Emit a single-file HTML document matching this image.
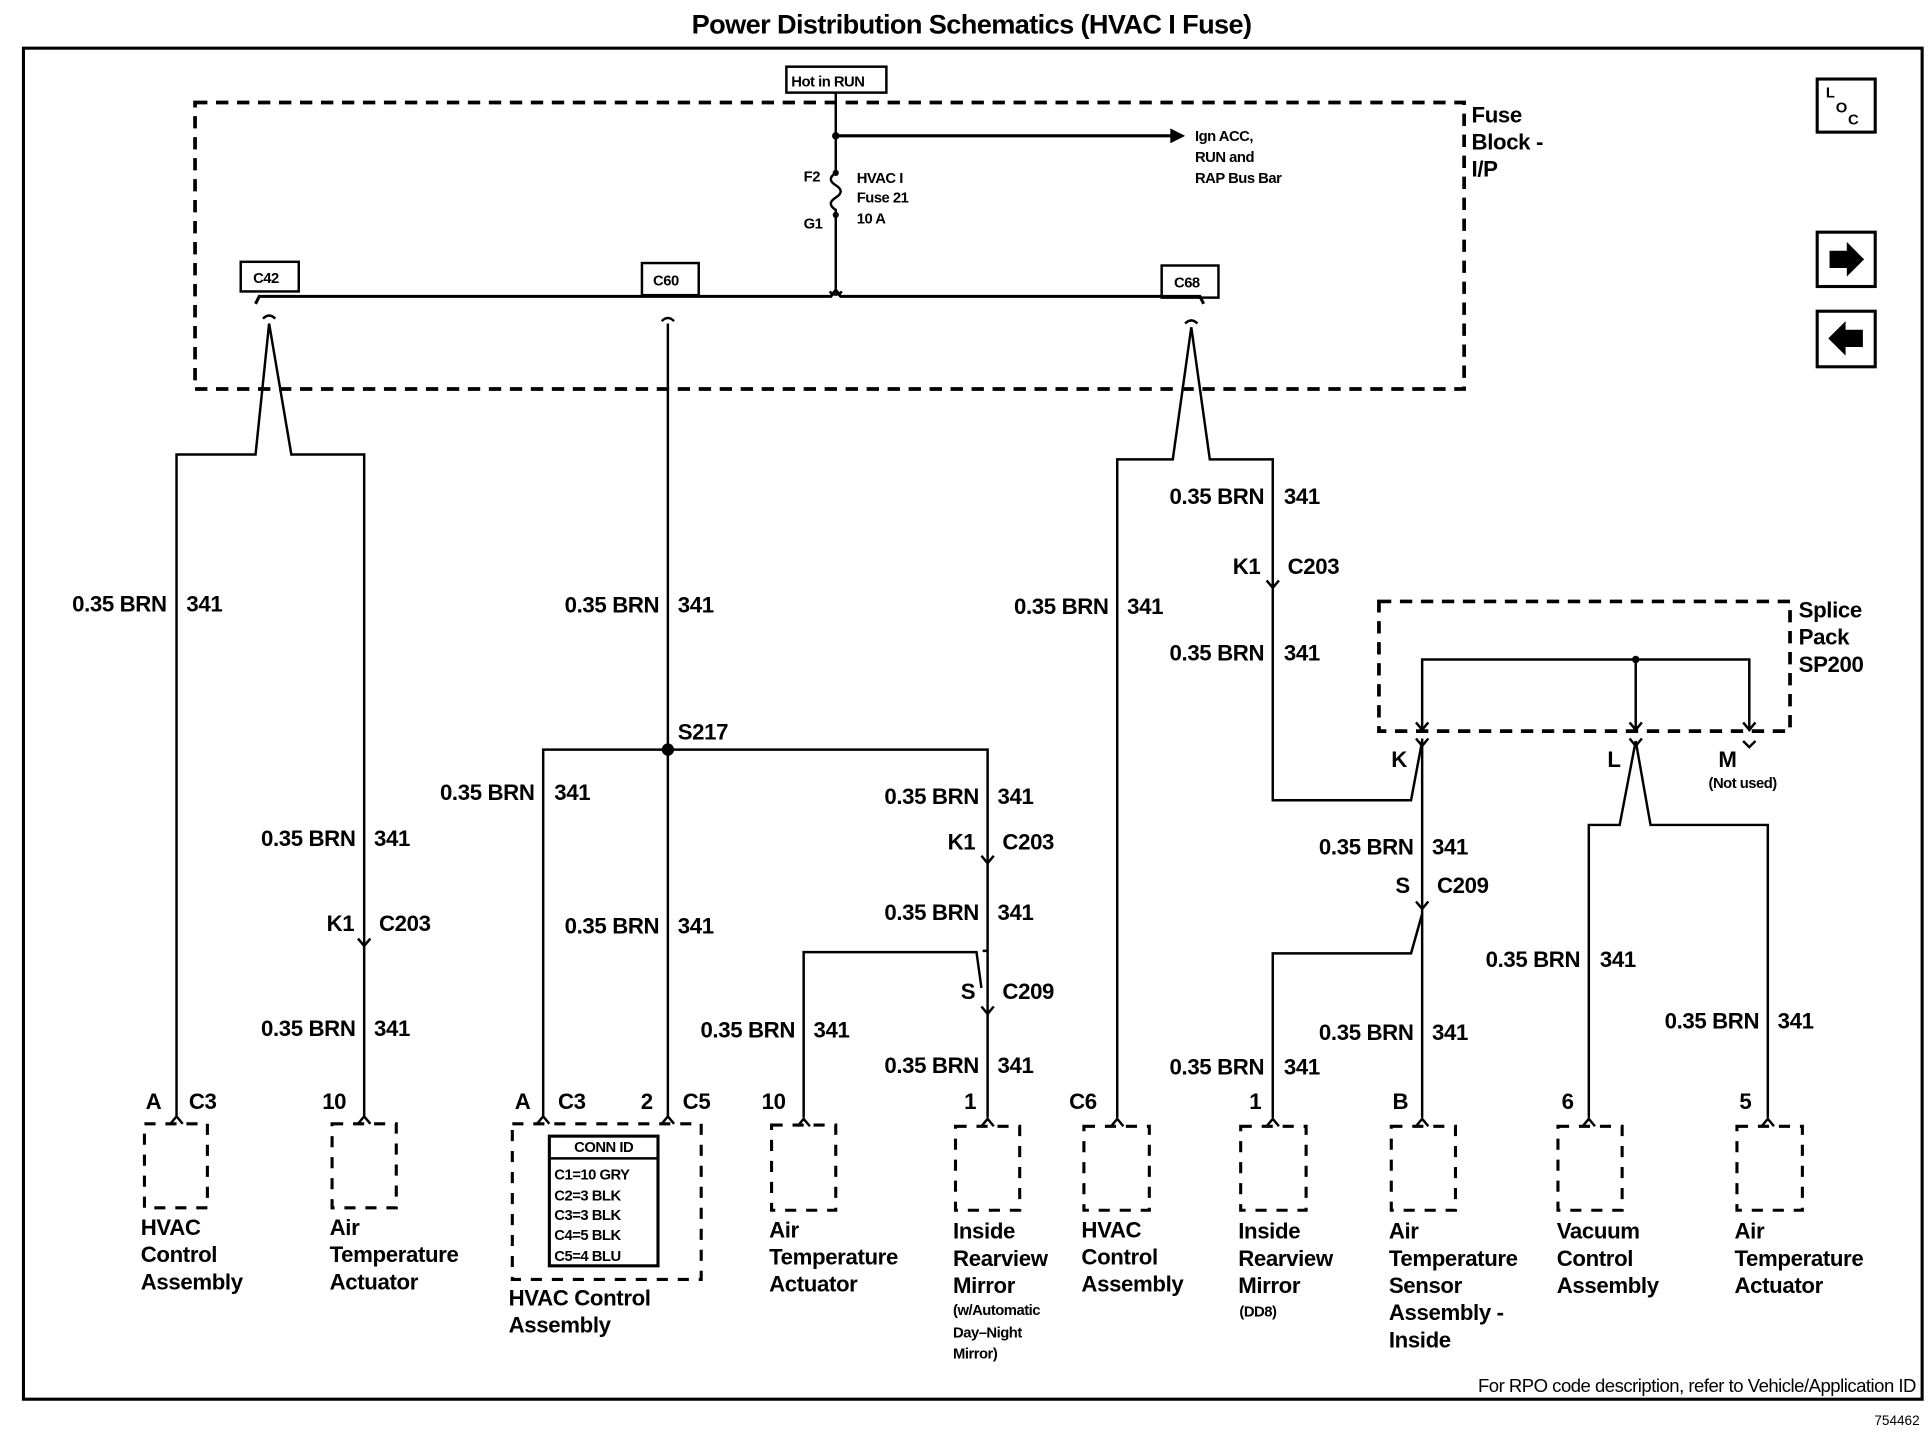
<!DOCTYPE html>
<html><head><meta charset="utf-8"><style>
html,body{margin:0;padding:0;background:#fff;}
svg{display:block;}
text{font-family:"Liberation Sans",Arial,sans-serif;fill:#000;}
.t{font-size:18px;letter-spacing:-0.3px;font-weight:bold;}
.s{font-size:12px;letter-spacing:-0.4px;font-weight:bold;}
.b{font-weight:bold;}
</style></head><body>
<svg width="1932" height="1456" viewBox="0 0 1565 1179" preserveAspectRatio="none" xmlns="http://www.w3.org/2000/svg">
<g fill="none" stroke="#000" stroke-width="2">
<rect x="19" y="39" width="1538" height="1094" stroke-width="2.5"/>
<rect x="158" y="83" width="1028" height="232" stroke-width="3" stroke-dasharray="10,7"/>
<rect x="637" y="54" width="81" height="21"/>
<line x1="677" y1="75" x2="677" y2="140"/>
<path d="M677,140 q-8,5 0,10 q8,5 0,10 q-8,5 0,10 l0,4"/>
<line x1="677" y1="174" x2="677" y2="236"/>
<line x1="677" y1="110" x2="950" y2="110" stroke-width="2.5"/>
<path d="M207,246 l3,-6 L673,240 l4,-5 l4,5 L972,240 l3,6" stroke-width="2.5"/>
<rect x="195" y="212" width="47" height="24"/>
<rect x="520" y="213" width="46" height="26"/>
<rect x="941" y="215" width="46" height="26"/>
<path d="M213,258 q5,-5 10,0 M536,260 q5,-5 10,0 M960,262 q5,-5 10,0 M672,236 q5,5 10,0"/>
<path d="M218,262 L207,368 L143,368 L143,905"/>
<path d="M218,262 L236,368 L295,368 L295,905"/>
<line x1="541" y1="262" x2="541" y2="905"/>
<path d="M440,905 L440,607 L800,607 L800,770 L796,770 M800,770 L800,905"/>
<path d="M795,800 L791,771 L651,771 L651,905"/>
<path d="M965,265 L950,372 L905,372 L905,905"/>
<path d="M965,265 L980,372 L1031,372 L1031,648 L1143,648 L1152,600"/>
<line x1="1152" y1="598" x2="1152" y2="905"/>
<path d="M1152,740 L1143,772 L1031,772 L1031,905"/>
<rect x="1117" y="487" width="333" height="105" stroke-width="3" stroke-dasharray="10,7"/>
<path d="M1152,590 L1152,534 L1417,534 L1417,592"/>
<line x1="1325" y1="534" x2="1325" y2="592"/>
<path d="M1325,600 L1312,668 L1287,668 L1287,905"/>
<path d="M1325,600 L1337,668 L1432,668 L1432,905"/>
<path d="M1147,585 l5,6 l5,-6 M1147,598 l5,6 l5,-6 M1320,585 l5,6 l5,-6 M1320,598 l5,6 l5,-6 M1412,585 l5,6 l5,-6 M1412,600 l5,5 l5,-5"/>
<path d="M290,760 l5,6 l5,-6 M795,693 l5,6 l5,-6 M795,815 l5,6 l5,-6 M1026,470 l5,6 l5,-6 M1147,730 l5,6 l5,-6"/>
<path d="M138,910 l5,-6 l5,6 M290,910 l5,-6 l5,6 M435,910 l5,-6 l5,6 M536,910 l5,-6 l5,6 M646,912 l5,-6 l5,6 M795,912 l5,-6 l5,6 M900,912 l5,-6 l5,6 M1026,912 l5,-6 l5,6 M1147,912 l5,-6 l5,6 M1282,912 l5,-6 l5,6 M1427,912 l5,-6 l5,6"/>
<g stroke-width="2.5" stroke-dasharray="9,8">
<rect x="117" y="910" width="51" height="68"/>
<rect x="269" y="910" width="52" height="68"/>
<rect x="415" y="910" width="153" height="126"/>
<rect x="625" y="911" width="52" height="69"/>
<rect x="774" y="912" width="52" height="68"/>
<rect x="878" y="912" width="53" height="68"/>
<rect x="1005" y="912" width="53" height="68"/>
<rect x="1127" y="912" width="52" height="68"/>
<rect x="1262" y="912" width="52" height="68"/>
<rect x="1407" y="912" width="53" height="68"/>
</g>
<rect x="445" y="920" width="88" height="105" stroke-width="2.5"/>
<line x1="445" y1="938" x2="533" y2="938"/>
<rect x="1472" y="64" width="47" height="43" stroke-width="2.5"/>
<rect x="1472" y="188" width="47" height="44" stroke-width="2.5"/>
<rect x="1472" y="252" width="47" height="45" stroke-width="2.5"/>
</g>
<g fill="#000">
<circle cx="677" cy="110" r="3"/><circle cx="541" cy="607" r="5"/><circle cx="1325" cy="534" r="3"/>
<circle cx="677" cy="140" r="2.5"/><circle cx="677" cy="174" r="2.5"/>
<polygon points="948,104 960,110 948,116"/>
<polygon points="1482,203 1496,203 1496,196 1510,210 1496,224 1496,217 1482,217"/>
<polygon points="1509,267 1495,267 1495,260 1481,274 1495,288 1495,281 1509,281"/>
</g>
<text x="787" y="27" text-anchor="middle" class="b" style="font-size:22px;letter-spacing:-0.5px">Power Distribution Schematics (HVAC I Fuse)</text>
<text x="641" y="70" class="s">Hot in RUN</text>
<text x="1192" y="99" class="t">Fuse</text><text x="1192" y="121" class="t">Block -</text><text x="1192" y="143" class="t">I/P</text>
<text x="968" y="114" class="s">Ign ACC,</text><text x="968" y="131" class="s">RUN and</text><text x="968" y="148" class="s">RAP Bus Bar</text>
<text x="651" y="147" class="s">F2</text><text x="651" y="185" class="s">G1</text>
<text x="694" y="148" class="s">HVAC I</text><text x="694" y="164" class="s">Fuse 21</text><text x="694" y="181" class="s">10 A</text>
<text x="205" y="229" class="s">C42</text><text x="529" y="231" class="s">C60</text><text x="951" y="233" class="s">C68</text>
<text x="1479" y="79" class="s">L</text><text x="1487" y="91" class="s">O</text><text x="1497" y="101" class="s">C</text>
<g class="t" text-anchor="end">
<text x="135" y="495">0.35 BRN</text><text x="288" y="685">0.35 BRN</text><text x="288" y="839">0.35 BRN</text>
<text x="534" y="496">0.35 BRN</text><text x="433" y="648">0.35 BRN</text><text x="534" y="756">0.35 BRN</text>
<text x="793" y="651">0.35 BRN</text><text x="793" y="745">0.35 BRN</text><text x="644" y="840">0.35 BRN</text><text x="793" y="869">0.35 BRN</text>
<text x="898" y="497">0.35 BRN</text><text x="1024" y="408">0.35 BRN</text><text x="1024" y="535">0.35 BRN</text>
<text x="1145" y="692">0.35 BRN</text><text x="1145" y="842">0.35 BRN</text><text x="1024" y="870">0.35 BRN</text>
<text x="1280" y="783">0.35 BRN</text><text x="1425" y="833">0.35 BRN</text>
<text x="287" y="754">K1</text><text x="790" y="688">K1</text><text x="790" y="809">S</text><text x="1021" y="465">K1</text><text x="1142" y="723">S</text>
</g>
<g class="t">
<text x="151" y="495">341</text><text x="303" y="685">341</text><text x="303" y="839">341</text>
<text x="549" y="496">341</text><text x="449" y="648">341</text><text x="549" y="756">341</text>
<text x="808" y="651">341</text><text x="808" y="745">341</text><text x="659" y="840">341</text><text x="808" y="869">341</text>
<text x="913" y="497">341</text><text x="1040" y="408">341</text><text x="1040" y="535">341</text>
<text x="1160" y="692">341</text><text x="1160" y="842">341</text><text x="1040" y="870">341</text>
<text x="1296" y="783">341</text><text x="1440" y="833">341</text>
<text x="307" y="754">C203</text><text x="812" y="688">C203</text><text x="812" y="809">C209</text><text x="1043" y="465">C203</text><text x="1164" y="723">C209</text>
<text x="549" y="599">S217</text>
<text x="1457" y="500">Splice</text><text x="1457" y="522">Pack</text><text x="1457" y="544">SP200</text>
<text x="1127" y="621">K</text><text x="1302" y="621">L</text><text x="1392" y="621">M</text>
<text x="118" y="898">A</text><text x="153" y="898">C3</text><text x="261" y="898">10</text>
<text x="417" y="898">A</text><text x="452" y="898">C3</text><text x="519" y="898">2</text><text x="553" y="898">C5</text>
<text x="617" y="898">10</text><text x="781" y="898">1</text><text x="866" y="898">C6</text><text x="1012" y="898">1</text>
<text x="1128" y="898">B</text><text x="1265" y="898">6</text><text x="1409" y="898">5</text>
<text x="114" y="1000">HVAC</text><text x="114" y="1022">Control</text><text x="114" y="1044">Assembly</text>
<text x="267" y="1000">Air</text><text x="267" y="1022">Temperature</text><text x="267" y="1044">Actuator</text>
<text x="412" y="1057">HVAC Control</text><text x="412" y="1079">Assembly</text>
<text x="623" y="1002">Air</text><text x="623" y="1024">Temperature</text><text x="623" y="1046">Actuator</text>
<text x="772" y="1003">Inside</text><text x="772" y="1025">Rearview</text><text x="772" y="1047">Mirror</text>
<text x="876" y="1002">HVAC</text><text x="876" y="1024">Control</text><text x="876" y="1046">Assembly</text>
<text x="1003" y="1003">Inside</text><text x="1003" y="1025">Rearview</text><text x="1003" y="1047">Mirror</text>
<text x="1125" y="1003">Air</text><text x="1125" y="1025">Temperature</text><text x="1125" y="1047">Sensor</text><text x="1125" y="1069">Assembly -</text><text x="1125" y="1091">Inside</text>
<text x="1261" y="1003">Vacuum</text><text x="1261" y="1025">Control</text><text x="1261" y="1047">Assembly</text>
<text x="1405" y="1003">Air</text><text x="1405" y="1025">Temperature</text><text x="1405" y="1047">Actuator</text>
</g>
<g class="s">
<text x="1384" y="638">(Not used)</text>
<text x="772" y="1065">(w/Automatic</text><text x="772" y="1083">Day–Night</text><text x="772" y="1100">Mirror)</text>
<text x="1004" y="1066">(DD8)</text>
</g>
<g class="s">
<text x="489" y="933" text-anchor="middle">CONN ID</text>
<text x="449" y="955">C1=10 GRY</text><text x="449" y="972">C2=3 BLK</text><text x="449" y="988">C3=3 BLK</text><text x="449" y="1004">C4=5 BLK</text><text x="449" y="1021">C5=4 BLU</text>
</g>
<text x="1552" y="1127" text-anchor="end" style="font-size:15px;letter-spacing:-0.4px">For RPO code description, refer to Vehicle/Application ID</text>
<text x="1555" y="1154" text-anchor="end" style="font-size:11px">754462</text>
</svg>
</body></html>
